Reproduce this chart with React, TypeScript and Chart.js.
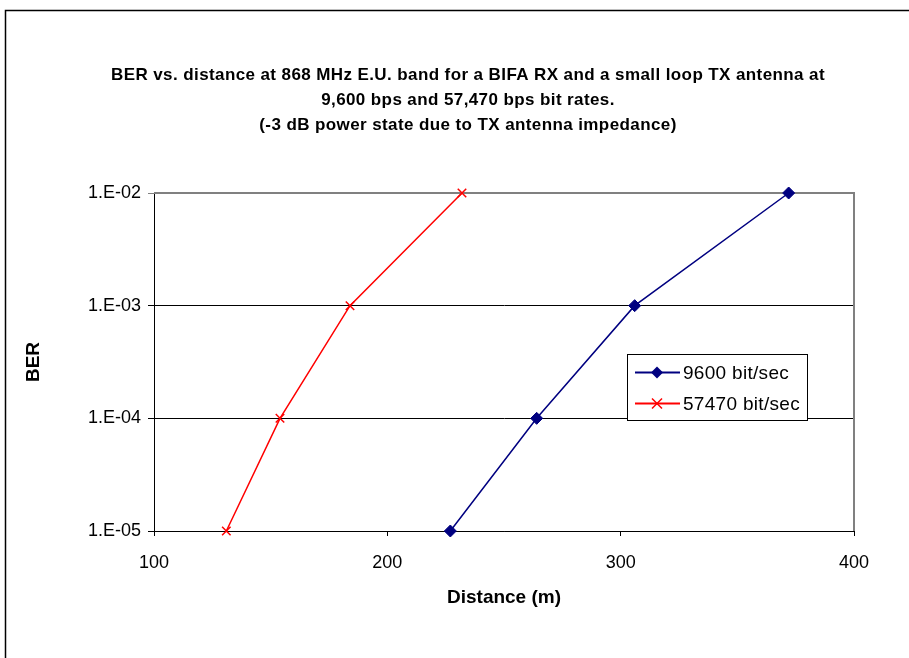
import React, { useEffect, useRef } from 'react';
import { Chart, registerables } from 'chart.js';

Chart.register(...registerables);

// Bit error rate levels (y) reached at each measured distance (x, metres)
const berLevels = [1e-5, 1e-4, 1e-3, 1e-2];
const distance9600 = [227, 264, 306, 372];
const distance57470 = [131, 154, 184, 232];
const xTickValues = [100, 200, 300, 400];
const seriesNames = ['9600 bit/sec', '57470 bit/sec'];
const seriesColors = ['#000080', '#FF0000'];
const titleLines = [
  'BER vs. distance at 868 MHz E.U. band for a BIFA RX and a small loop TX antenna at',
  '9,600 bps and 57,470 bps bit rates.',
  '(-3 dB power state due to TX antenna impedance)',
];
const xAxisTitle = 'Distance (m)';
const yAxisTitle = 'BER';

const FONT = '"Liberation Sans", Arial, Helvetica, sans-serif';

const berLabel = (v: number) => {
  const e = Math.round(Math.log10(v));
  const sign = e < 0 ? '-' : '+';
  return `1.E${sign}${String(Math.abs(e)).padStart(2, '0')}`;
};

const decorPlugin = {
  id: 'decor',
  beforeDraw(chart: any) {
    const { ctx, width, height } = chart;
    ctx.save();
    ctx.fillStyle = '#ffffff';
    ctx.fillRect(0, 0, width, height);
    // outer frame (left and top edges visible)
    ctx.strokeStyle = '#000000';
    ctx.lineWidth = 1.5;
    ctx.beginPath();
    ctx.moveTo(5.5, height);
    ctx.lineTo(5.5, 10.5);
    ctx.lineTo(width, 10.5);
    ctx.stroke();
    ctx.restore();
  },
  beforeDatasetsDraw(chart: any) {
    const { ctx, chartArea } = chart;
    ctx.save();
    ctx.strokeStyle = '#808080';
    ctx.lineWidth = 2;
    ctx.beginPath();
    ctx.moveTo(chartArea.left, chartArea.top);
    ctx.lineTo(chartArea.right, chartArea.top);
    ctx.lineTo(chartArea.right, chartArea.bottom);
    ctx.stroke();
    ctx.restore();
  },
  afterDraw(chart: any) {
    const { ctx } = chart;
    ctx.save();
    ctx.fillStyle = '#000000';
    ctx.textAlign = 'center';
    ctx.textBaseline = 'middle';

    // title
    ctx.font = `bold 17px ${FONT}`;
    (ctx as any).letterSpacing = '0.4px';
    const titleY = [75, 100, 125];
    titleLines.forEach((line, i) => ctx.fillText(line, 468, titleY[i]));
    (ctx as any).letterSpacing = '0px';

    // axis titles
    ctx.font = `bold 19px ${FONT}`;
    ctx.fillText(xAxisTitle, 504, 598);
    ctx.save();
    ctx.translate(34, 362);
    ctx.rotate(-Math.PI / 2);
    ctx.fillText(yAxisTitle, 0, 0);
    ctx.restore();

    // legend
    const box = { x: 627.5, y: 354.5, w: 180, h: 66 };
    ctx.fillStyle = '#ffffff';
    ctx.fillRect(box.x, box.y, box.w, box.h);
    ctx.strokeStyle = '#000000';
    ctx.lineWidth = 1;
    ctx.strokeRect(box.x, box.y, box.w, box.h);
    const rows = [372.5, 403.5];
    seriesNames.forEach((name, i) => {
      const y = rows[i];
      ctx.strokeStyle = seriesColors[i];
      ctx.lineWidth = 2;
      ctx.beginPath();
      ctx.moveTo(635, y);
      ctx.lineTo(680, y);
      ctx.stroke();
      const mx = 657;
      if (i === 0) {
        ctx.fillStyle = seriesColors[i];
        ctx.beginPath();
        ctx.moveTo(mx, y - 6);
        ctx.lineTo(mx + 6, y);
        ctx.lineTo(mx, y + 6);
        ctx.lineTo(mx - 6, y);
        ctx.closePath();
        ctx.fill();
      } else {
        ctx.lineWidth = 1.5;
        ctx.beginPath();
        ctx.moveTo(mx - 5, y - 5);
        ctx.lineTo(mx + 5, y + 5);
        ctx.moveTo(mx + 5, y - 5);
        ctx.lineTo(mx - 5, y + 5);
        ctx.stroke();
      }
      ctx.fillStyle = '#000000';
      ctx.font = `19px ${FONT}`;
      (ctx as any).letterSpacing = '0.3px';
      ctx.textAlign = 'left';
      ctx.fillText(name, 683, y + 1);
      (ctx as any).letterSpacing = '0px';
    });
    ctx.restore();
  },
};

export default function App() {
  const canvasRef = useRef<HTMLCanvasElement | null>(null);

  useEffect(() => {
    if (!canvasRef.current) return;
    const chart = new Chart(canvasRef.current, {
      type: 'line',
      data: {
        datasets: [
          {
            label: seriesNames[0],
            data: distance9600.map((d, i) => ({ x: d, y: berLevels[i] })),
            borderColor: seriesColors[0],
            backgroundColor: seriesColors[0],
            borderWidth: 1.5,
            pointStyle: 'rectRot',
            pointRadius: 6,
            pointBorderWidth: 1,
            clip: false,
          },
          {
            label: seriesNames[1],
            data: distance57470.map((d, i) => ({ x: d, y: berLevels[i] })),
            borderColor: seriesColors[1],
            backgroundColor: seriesColors[1],
            borderWidth: 1.5,
            pointStyle: 'crossRot',
            pointRadius: 6,
            pointBorderWidth: 1.5,
            clip: false,
          },
        ],
      },
      options: {
        animation: false,
        responsive: false,
        maintainAspectRatio: false,
        layout: { padding: { left: 0, top: 193, right: 55, bottom: 0 } },
        plugins: {
          legend: { display: false },
          title: { display: false },
          tooltip: { enabled: false },
        },
        scales: {
          x: {
            type: 'linear',
            min: 100,
            max: 400,
            afterBuildTicks: (scale: any) => {
              scale.ticks = xTickValues.map((v) => ({ value: v }));
            },
            afterFit: (scale: any) => {
              scale.height = 127;
            },
            grid: {
              drawOnChartArea: false,
              drawTicks: true,
              tickLength: 5,
              color: '#000000',
            },
            border: { color: '#000000', width: 1 },
            ticks: {
              color: '#000000',
              font: { family: FONT, size: 18 },
              padding: 16,
              maxRotation: 0,
            },
          },
          y: {
            type: 'logarithmic',
            min: 1e-5,
            max: 1e-2,
            afterBuildTicks: (scale: any) => {
              scale.ticks = berLevels.map((v) => ({ value: v, major: true }));
            },
            afterFit: (scale: any) => {
              scale.width = 154;
            },
            grid: {
              color: (c: any) => (c.tick && c.tick.value === 1e-2 ? '#808080' : '#000000'),
              tickLength: 6,
              lineWidth: 1,
            },
            border: { color: '#000000', width: 1 },
            ticks: {
              color: '#000000',
              font: { family: FONT, size: 18 },
              padding: 7,
              callback: (v: any) => berLabel(Number(v)),
            },
          },
        },
      },
      plugins: [decorPlugin],
    });
    return () => chart.destroy();
  }, []);

  return (
    <div style={{ position: 'absolute', left: 0, top: 0, width: 909, height: 658 }}>
      <canvas ref={canvasRef} width={909} height={658} style={{ width: 909, height: 658 }} />
    </div>
  );
}
